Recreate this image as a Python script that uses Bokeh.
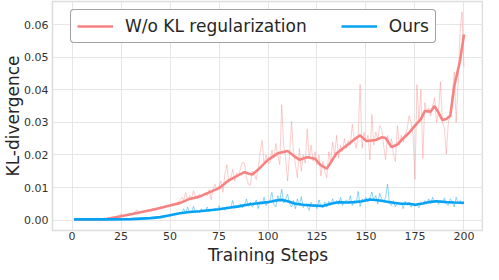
from bokeh.plotting import figure
from bokeh.models import FixedTicker, NumeralTickFormatter, Range1d, Legend, LegendItem, Title
from bokeh.embed import file_html
from bokeh.resources import INLINE

steps = list(range(1, 201))

red_raw = [
    0.0002, 0.0002, 0.0002, 0.0002, 0.0002, 0.0002, 0.0002, 0.0002, 0.0002, 0.0002,
    0.0002, 0.0002, 0.0002, 0.0002, 0.0003, 0.0003, 0.0004, 0.0005, 0.0006, 0.0007,
    0.0008, 0.0010, 0.0011, 0.0012, 0.0020, 0.0013, 0.0015, 0.0016, 0.0018, 0.0019,
    0.0021, 0.0022, 0.0032, 0.0024, 0.0026, 0.0027, 0.0029, 0.0030, 0.0032, 0.0031,
    0.0035, 0.0036, 0.0034, 0.0038, 0.0040, 0.0039, 0.0043, 0.0044, 0.0046, 0.0045,
    0.0049, 0.0047, 0.0052, 0.0055, 0.0058, 0.0070, 0.0062, 0.0085, 0.0060, 0.0075,
    0.0068, 0.0090, 0.0072, 0.0065, 0.0080, 0.0070, 0.0078, 0.0085, 0.0075, 0.0095,
    0.0062, 0.0095, 0.0110, 0.0090, 0.0105, 0.0120, 0.0085, 0.0140, 0.0170, 0.0115,
    0.0130, 0.0155, 0.0120, 0.0145, 0.0135, 0.0160, 0.0178, 0.0175, 0.0130, 0.0110,
    0.0106, 0.0150, 0.0140, 0.0125, 0.0160, 0.0210, 0.0245, 0.0170, 0.0200, 0.0175,
    0.0175, 0.0215, 0.0190, 0.0235, 0.0200, 0.0170, 0.0354, 0.0230, 0.0190, 0.0120,
    0.0200, 0.0304, 0.0210, 0.0170, 0.0130, 0.0220, 0.0150, 0.0200, 0.0175, 0.0280,
    0.0190, 0.0230, 0.0180, 0.0210, 0.0170, 0.0200, 0.0135, 0.0180, 0.0150, 0.0130,
    0.0210, 0.0180, 0.0240, 0.0200, 0.0260, 0.0190, 0.0230, 0.0210, 0.0250, 0.0220,
    0.0244, 0.0230, 0.0294, 0.0250, 0.0220, 0.0260, 0.0416, 0.0220, 0.0270, 0.0240,
    0.0260, 0.0185, 0.0324, 0.0230, 0.0270, 0.0250, 0.0290, 0.0280, 0.0230, 0.0185,
    0.0260, 0.0230, 0.0250, 0.0200, 0.0180, 0.0290, 0.0230, 0.0260, 0.0240, 0.0264,
    0.0280, 0.0320, 0.0300, 0.0260, 0.0125, 0.0416, 0.0300, 0.0400, 0.0190, 0.0360,
    0.0330, 0.0345, 0.0320, 0.0350, 0.0375, 0.0300, 0.0330, 0.0424, 0.0300, 0.0280,
    0.0203, 0.0300, 0.0320, 0.0380, 0.0454, 0.0300, 0.0420, 0.0580, 0.0639, 0.0470,
]

blue_raw = [
    0.0002, 0.0002, 0.0002, 0.0002, 0.0002, 0.0002, 0.0002, 0.0002, 0.0002, 0.0002,
    0.0002, 0.0002, 0.0002, 0.0002, 0.0002, 0.0002, 0.0002, 0.0002, 0.0002, 0.0002,
    0.0002, 0.0002, 0.0003, 0.0003, 0.0003, 0.0003, 0.0003, 0.0003, 0.0004, 0.0004,
    0.0004, 0.0004, 0.0004, 0.0005, 0.0005, 0.0005, 0.0006, 0.0006, 0.0006, 0.0007,
    0.0007, 0.0008, 0.0008, 0.0009, 0.0010, 0.0010, 0.0011, 0.0012, 0.0014, 0.0015,
    0.0017, 0.0018, 0.0020, 0.0019, 0.0022, 0.0021, 0.0035, 0.0020, 0.0040, 0.0022,
    0.0025, 0.0042, 0.0024, 0.0030, 0.0022, 0.0035, 0.0026, 0.0028, 0.0040, 0.0025,
    0.0032, 0.0028, 0.0036, 0.0030, 0.0044, 0.0032, 0.0038, 0.0030, 0.0042, 0.0035,
    0.0040, 0.0060, 0.0036, 0.0042, 0.0040, 0.0050, 0.0038, 0.0045, 0.0065, 0.0042,
    0.0055, 0.0040, 0.0050, 0.0062, 0.0035, 0.0058, 0.0048, 0.0070, 0.0044, 0.0055,
    0.0062, 0.0085, 0.0048, 0.0040, 0.0075, 0.0060, 0.0095, 0.0052, 0.0065, 0.0080,
    0.0050, 0.0040, 0.0060, 0.0035, 0.0065, 0.0045, 0.0072, 0.0038, 0.0050, 0.0042,
    0.0030, 0.0055, 0.0040, 0.0048, 0.0035, 0.0062, 0.0042, 0.0038, 0.0055, 0.0040,
    0.0058, 0.0045, 0.0065, 0.0050, 0.0060, 0.0048, 0.0070, 0.0045, 0.0055, 0.0062,
    0.0050, 0.0075, 0.0045, 0.0060, 0.0052, 0.0088, 0.0042, 0.0065, 0.0058, 0.0070,
    0.0055, 0.0068, 0.0086, 0.0060, 0.0075, 0.0050, 0.0082, 0.0065, 0.0058, 0.0070,
    0.0110, 0.0050, 0.0045, 0.0060, 0.0040, 0.0055, 0.0048, 0.0052, 0.0035, 0.0058,
    0.0045, 0.0055, 0.0040, 0.0050, 0.0042, 0.0048, 0.0038, 0.0055, 0.0050, 0.0060,
    0.0052, 0.0065, 0.0050, 0.0070, 0.0055, 0.0062, 0.0048, 0.0060, 0.0055, 0.0068,
    0.0050, 0.0045, 0.0065, 0.0058, 0.0040, 0.0070, 0.0052, 0.0060, 0.0048, 0.0055,
]

red_smooth_steps = [1, 5, 10, 15, 18, 20, 25, 30, 35, 40, 45, 50, 55, 60, 65, 70, 75, 80,
                    85, 88, 90, 92, 95, 100, 105, 110, 113, 116, 120, 124, 127, 130, 135,
                    140, 145, 147, 150, 155, 158, 160, 163, 166, 168, 172, 175, 178, 180,
                    183, 185, 187, 189, 191, 193, 195, 198, 200]
red_smooth = [0.0002, 0.0002, 0.0002, 0.0002, 0.0004, 0.0006, 0.0012, 0.0018, 0.0024, 0.0030,
              0.0037, 0.0045, 0.0052, 0.0065, 0.0072, 0.0085, 0.0098, 0.0122, 0.0138, 0.0147,
              0.0143, 0.0140, 0.0155, 0.0185, 0.0205, 0.0212, 0.0198, 0.0185, 0.0193, 0.0188,
              0.0168, 0.0158, 0.0205, 0.0228, 0.0252, 0.0260, 0.0243, 0.0246, 0.0254, 0.0252,
              0.0224, 0.0232, 0.0245, 0.0268, 0.0290, 0.0310, 0.0335, 0.0333, 0.0350, 0.0330,
              0.0307, 0.0310, 0.0320, 0.0410, 0.0490, 0.0570]

blue_smooth_steps = [1, 10, 20, 30, 40, 45, 50, 55, 60, 65, 70, 75, 80, 85, 90, 94, 100, 104,
                     107, 110, 114, 118, 122, 128, 132, 136, 140, 144, 148, 152, 157, 160, 164,
                     168, 172, 175, 179, 183, 186, 191, 195, 200]
blue_smooth = [0.0002, 0.0002, 0.0002, 0.0003, 0.0006, 0.0009, 0.0015, 0.0021, 0.0025, 0.0027,
               0.0030, 0.0033, 0.0038, 0.0042, 0.0048, 0.0051, 0.0055, 0.0060, 0.0062, 0.0058,
               0.0050, 0.0047, 0.0045, 0.0043, 0.0050, 0.0055, 0.0054, 0.0055, 0.0058, 0.0063,
               0.0060, 0.0057, 0.0053, 0.0050, 0.0050, 0.0047, 0.0051, 0.0056, 0.0058, 0.0055,
               0.0054, 0.0053]

x_ticks = [0, 25, 50, 75, 100, 125, 150, 175, 200]
y_ticks = [0.0, 0.01, 0.02, 0.03, 0.04, 0.05, 0.06]

RED = "#F78282"
BLUE = "#08A2F2"
FONT = "DejaVu Sans"

p = figure(width=483, height=264, output_backend="svg", toolbar_location=None,
           x_range=Range1d(-9.95, 209.95), y_range=Range1d(-0.0032, 0.0671),
           min_border_left=0, min_border_right=0, min_border_top=1, min_border_bottom=0)

p.background_fill_color = "white"
p.border_fill_color = "white"
p.outline_line_color = "#dcdcdc"
p.outline_line_width = 1.5

for ax in (p.xaxis[0], p.yaxis[0]):
    ax.axis_line_color = None
    ax.major_tick_line_color = None
    ax.minor_tick_line_color = None
    ax.major_tick_out = 0
    ax.major_tick_in = 0
    ax.minor_tick_out = 0
    ax.minor_tick_in = 0
    ax.major_label_text_font = FONT
    ax.major_label_text_font_size = "11px"
    ax.major_label_text_color = "#333333"
    ax.axis_label_text_font = FONT
    ax.axis_label_text_font_size = "17px"
    ax.axis_label_text_font_style = "normal"
    ax.axis_label_text_color = "#262626"

p.xaxis.ticker = FixedTicker(ticks=x_ticks)
p.yaxis.ticker = FixedTicker(ticks=y_ticks)
p.yaxis.formatter = NumeralTickFormatter(format="0.00")
p.yaxis.axis_label = "KL-divergence"
p.xaxis.major_label_standoff = 1
p.yaxis.major_label_standoff = 4
p.yaxis.axis_label_standoff = -2

p.xgrid.grid_line_color = "#e6e6e6"
p.ygrid.grid_line_color = "#e6e6e6"
p.xgrid.grid_line_width = 1
p.ygrid.grid_line_width = 1

p.line(steps, red_raw, line_color=RED, line_width=1, line_alpha=0.4)
p.line(steps, blue_raw, line_color=BLUE, line_width=1, line_alpha=0.45)
r_red = p.line(red_smooth_steps, red_smooth, line_color=RED, line_width=2.6)
r_blue = p.line(blue_smooth_steps, blue_smooth, line_color=BLUE, line_width=2.6)

xlabel = Title(text="Training Steps", align="center", text_font=FONT,
               text_font_size="17px", text_font_style="normal", text_color="#262626",
               standoff=0, offset=0)
p.add_layout(xlabel, "below")

legend = Legend(items=[LegendItem(label="W/o KL regularization", renderers=[r_red]),
                       LegendItem(label="Ours", renderers=[r_blue])],
                orientation="horizontal", location=(18, 187))
legend.label_text_font = FONT
legend.label_text_font_size = "17px"
legend.label_text_color = "#262626"
legend.glyph_width = 36
legend.glyph_height = 18
legend.label_standoff = 12
legend.spacing = 34
legend.padding = 6
legend.margin = 0
legend.border_line_color = "#444444"
legend.border_line_width = 1
legend.border_radius = 4
legend.background_fill_alpha = 1.0
p.add_layout(legend, "center")

open("out.html", "w").write(file_html(p, INLINE))
